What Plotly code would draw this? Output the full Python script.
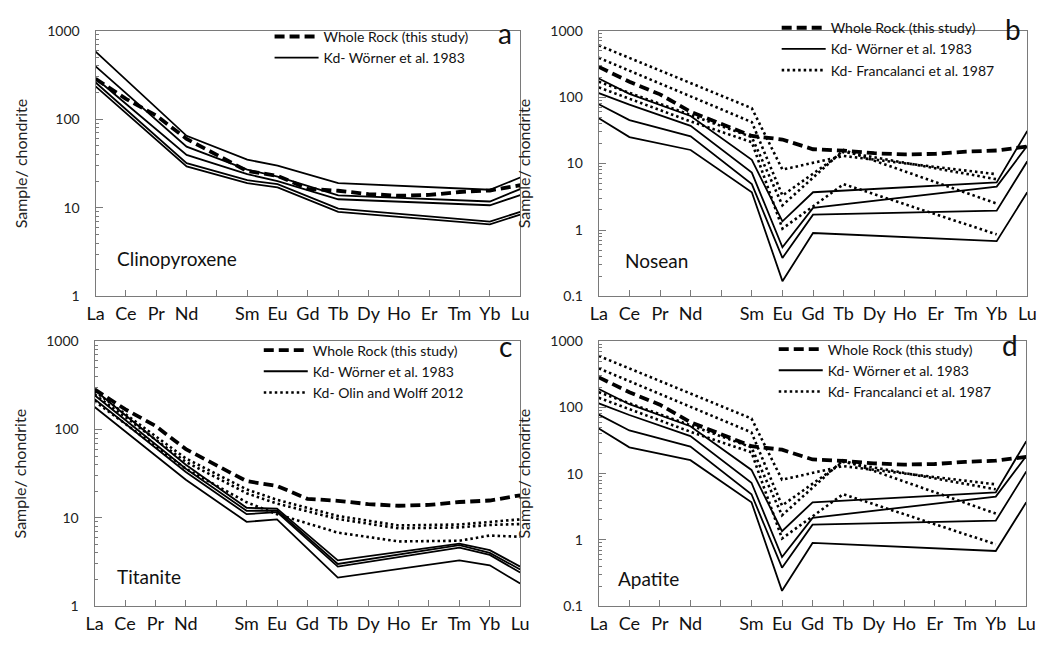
import plotly.graph_objects as go

W, H = 1045, 647
N = None

# ---------------- data ----------------
ree = ["La", "Ce", "Pr", "Nd", "", "Sm", "Eu", "Gd", "Tb", "Dy", "Ho", "Er", "Tm", "Yb", "Lu"]

whole_rock = [285, 170, 110, 60, N, 26, 23, 16.4, 15.6, 14.3, 13.7, 14, 15.1, 15.7, 18]

# (a) Clinopyroxene, Kd Wörner et al. 1983
cpx_w1 = [580, N, N, 65, N, 35, 30, N, 19, N, N, N, N, 16, 22]
cpx_w2 = [395, N, N, 49, N, 27, 22.5, N, 13.8, N, N, N, N, 11.8, 16.3]
cpx_w3 = [290, N, N, 39.5, N, 24, 20, N, 12.5, N, N, N, N, 10.7, 13.9]
cpx_w4 = [260, N, N, 32, N, 20.5, 18.5, N, 9.8, N, N, N, N, 7.0, 9.0]
cpx_w5 = [235, N, N, 29.4, N, 19, 17, N, 9.0, N, N, N, N, 6.5, 8.4]

# (b) Nosean, Kd Wörner et al. 1983
nos_w1 = [190, 112, N, 52, N, 11.4, 1.35, 3.7, N, N, N, N, N, 5.2, 31]
nos_w2 = [115, 77, N, 37, N, 7.3, 0.55, 2.15, N, N, N, N, N, 4.5, 18.5]
nos_w3 = [78, 45, N, 25.6, N, 4.9, 0.38, 1.7, N, N, N, N, N, 1.95, 10.8]
nos_w4 = [48, 25, N, 16, N, 3.7, 0.17, 0.9, N, N, N, N, N, 0.68, 3.7]
# (b) Nosean, Kd Francalanci et al. 1987
nos_f1 = [600, N, N, 162, N, 68, 8.1, N, 13, N, N, N, N, 6.9, N]
nos_f2 = [390, N, N, 104, N, 42, 3.3, N, 15, N, N, N, N, 5.8, N]
nos_f3 = [170, N, N, 54, N, 25, 2.35, N, 16, N, N, N, N, 2.5, N]
nos_f4 = [140, N, N, 43, N, 21, 1.05, N, 4.9, N, N, N, N, 0.86, N]

# (c) Titanite, Kd Wörner et al. 1983
tit_w1 = [280, N, N, 40, N, 13, 12.7, N, 3.3, N, N, N, 5.1, 4.3, 2.8]
tit_w2 = [245, N, N, 36, N, 12, 12.1, N, 3.0, N, N, N, 4.9, 4.0, 2.6]
tit_w3 = [220, N, N, 33, N, 11, 11.6, N, 2.8, N, N, N, 4.6, 3.8, 2.4]
tit_w4 = [180, N, N, 27, N, 9, 9.6, N, 2.1, N, N, N, 3.3, 2.9, 1.8]
# (c) Titanite, Kd Olin and Wolff 2012
tit_o1 = [270, N, N, 47, N, 21, 16, N, 10.5, N, 8.2, N, 8.4, 9.0, 9.6]
tit_o2 = [250, N, N, 43, N, 19, 14.5, N, 9.7, N, 7.6, N, 7.8, 8.3, 8.5]
tit_o3 = [210, N, N, 36, N, 15, 11, N, 6.8, N, 5.4, N, 5.5, 6.3, 6.1]

# (d) Apatite (same curves as shown in panel b)
apa_w1, apa_w2, apa_w3, apa_w4 = nos_w1, nos_w2, nos_w3, nos_w4
apa_f1, apa_f2, apa_f3, apa_f4 = nos_f1, nos_f2, nos_f3, nos_f4

xpos = list(range(len(ree)))

# ---------------- layout helpers ----------------
FONT = "Lato"
GRAY = "#7a7a7a"

def px_x(v):
    return v / W

def px_y(v):
    return 1 - v / H

panels = [
    dict(name="Clinopyroxene", letter="a", x0=80, x1=512, y0=14, y1=287,
         yrange=[0, 3], wor=[cpx_w1, cpx_w2, cpx_w3, cpx_w4, cpx_w5], oth=[], oth_name=None,
         leg=(257, 4), letter_pos=(497, 16), name_pos=(100, 248)),
    dict(name="Nosean", letter="b", x0=592, x1=1028, y0=14, y1=287,
         yrange=[-1, 3], wor=[nos_w1, nos_w2, nos_w3, nos_w4], oth=[nos_f1, nos_f2, nos_f3, nos_f4],
         oth_name="Kd- Francalanci et al. 1987",
         leg=(773, -5), letter_pos=(1013, 12), name_pos=(617, 250)),
    dict(name="Titanite", letter="c", x0=79, x1=512, y0=333, y1=605,
         yrange=[0, 3], wor=[tit_w1, tit_w2, tit_w3, tit_w4], oth=[tit_o1, tit_o2, tit_o3],
         oth_name="Kd- Olin and Wolff 2012",
         leg=(246, 326), letter_pos=(497, 338), name_pos=(100, 575)),
    dict(name="Apatite", letter="d", x0=592, x1=1027, y0=333, y1=605,
         yrange=[-1, 3], wor=[apa_w1, apa_w2, apa_w3, apa_w4], oth=[apa_f1, apa_f2, apa_f3, apa_f4],
         oth_name="Kd- Francalanci et al. 1987",
         leg=(770, 325), letter_pos=(1010, 337), name_pos=(610, 577)),
]

fig = go.Figure()
layout = dict(width=W, height=H, margin=dict(l=0, r=0, t=0, b=0),
              paper_bgcolor="white", plot_bgcolor="white",
              font=dict(family=FONT, color="#111"), annotations=[])

for i, p in enumerate(panels):
    k = "" if i == 0 else str(i + 1)
    xa, ya = "x" + k, "y" + k
    leg = "legend" + k
    # whole rock
    fig.add_trace(go.Scatter(x=xpos, y=whole_rock, xaxis=xa, yaxis=ya, mode="lines",
                             connectgaps=True, name="Whole Rock (this study)",
                             line=dict(color="black", width=3.8, dash="10px,5px"),
                             legend=leg, showlegend=True, legendrank=1))
    for j, s in enumerate(p["wor"]):
        fig.add_trace(go.Scatter(x=xpos, y=s, xaxis=xa, yaxis=ya, mode="lines",
                                 connectgaps=True, name="Kd- Wörner et al. 1983",
                                 line=dict(color="black", width=1.8),
                                 legend=leg, showlegend=(j == 0), legendrank=2))
    for j, s in enumerate(p["oth"]):
        fig.add_trace(go.Scatter(x=xpos, y=s, xaxis=xa, yaxis=ya, mode="lines",
                                 connectgaps=True, name=p["oth_name"],
                                 line=dict(color="black", width=2.6, dash="2.5px,3px"),
                                 legend=leg, showlegend=(j == 0), legendrank=3))

    lo, hi = p["yrange"]
    majors = [10 ** e for e in range(lo, hi + 1)]
    labels = [("0.1" if e == -1 else str(10 ** e)) for e in range(lo, hi + 1)]
    minors = [m * 10 ** e for e in range(lo, hi) for m in range(2, 10)]

    layout["xaxis" + k] = dict(domain=[px_x(p["x0"]), px_x(p["x1"])], anchor=ya,
                               range=[0, 14], tickmode="array", tickvals=xpos, ticktext=ree,
                               ticks="inside", ticklen=6, tickcolor=GRAY, tickwidth=1,
                               showline=True, linecolor=GRAY, linewidth=1.3, mirror=True,
                               showgrid=False, zeroline=False,
                               tickfont=dict(family=FONT, size=18, color="#111"),
                               ticklabelstandoff=1)
    layout["yaxis" + k] = dict(domain=[px_y(p["y1"]), px_y(p["y0"])], anchor=xa,
                               type="log", range=[lo, hi], tickmode="array",
                               tickvals=majors, ticktext=labels,
                               ticks="inside", ticklen=7, tickcolor=GRAY, tickwidth=1,
                               minor=dict(tickmode="array", tickvals=minors, ticks="inside",
                                          ticklen=3, tickcolor=GRAY, showgrid=False),
                               showline=True, linecolor=GRAY, linewidth=1.3, mirror=True,
                               showgrid=False, zeroline=False,
                               tickfont=dict(family=FONT, size=14, color="#222"),
                               ticklabelstandoff=12,
                               title=dict(text="Sample/ chondrite", standoff=15,
                                          font=dict(family=FONT, size=16, color="#222")))
    layout[leg] = dict(x=px_x(p["leg"][0]), y=px_y(p["leg"][1]), xanchor="left", yanchor="top",
                       bgcolor="rgba(0,0,0,0)", borderwidth=0, itemwidth=44,
                       font=dict(family=FONT, size=14, color="#111"),
                       traceorder="normal", tracegroupgap=0)
    layout["annotations"].append(dict(text=p["letter"], xref="paper", yref="paper",
                                      x=px_x(p["letter_pos"][0]), y=px_y(p["letter_pos"][1]),
                                      xanchor="center", yanchor="middle", showarrow=False,
                                      font=dict(family=FONT, size=28, color="#111")))
    layout["annotations"].append(dict(text=p["name"], xref="paper", yref="paper",
                                      x=px_x(p["name_pos"][0]), y=px_y(p["name_pos"][1]),
                                      xanchor="left", yanchor="middle", showarrow=False,
                                      font=dict(family=FONT, size=19, color="#111")))

fig.update_layout(**layout)
fig.write_html("out.html")
